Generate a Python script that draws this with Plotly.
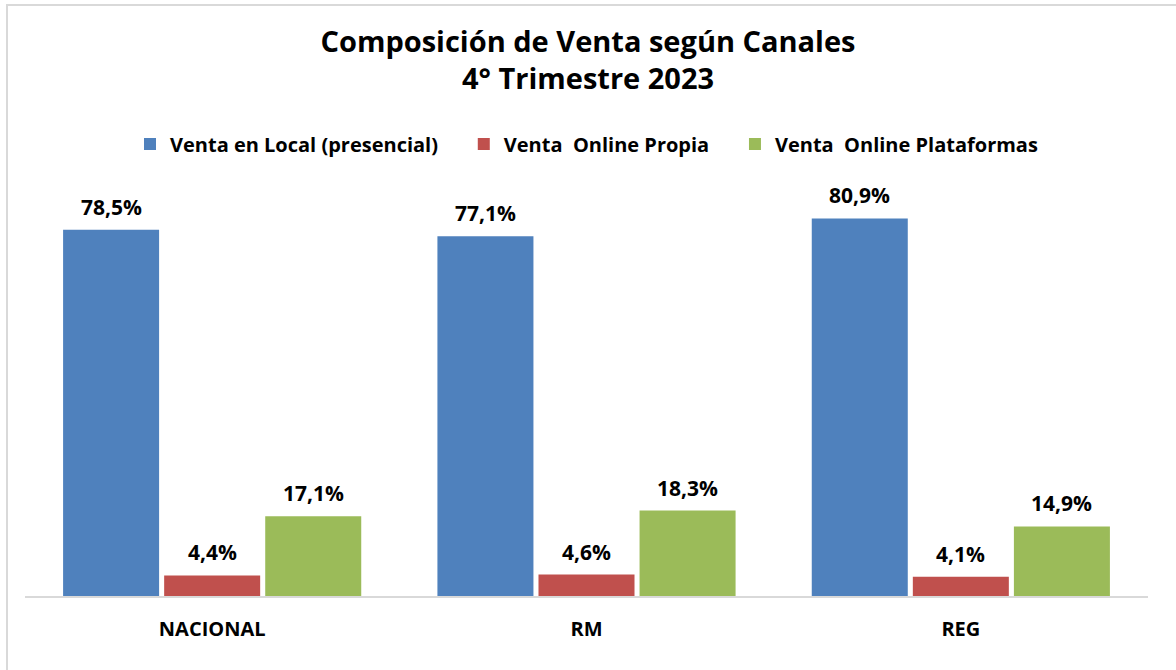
import plotly.graph_objects as go

categories = ["NACIONAL", "RM", "REG"]
series_names = ["Venta en Local (presencial)", "Venta  Online Propia", "Venta  Online Plataformas"]
venta_local = [78.5, 77.1, 80.9]
online_propia = [4.4, 4.6, 4.1]
online_plataformas = [17.1, 18.3, 14.9]
colors = ["#4F81BD", "#C0504D", "#9BBB59"]

FONT = "Open Sans"
W, H = 1176, 670
ML, MR, MT, MB = 25, 28, 176, 74
PW, PH = W - ML - MR, H - MT - MB
BARGAP, GROUPGAP = 0.19, 0.05

all_series = [venta_local, online_propia, online_plataformas]
n_series = len(all_series)
slot_px = PW / len(categories) * (1 - BARGAP) / n_series

fig = go.Figure()
annotations = []
for i, (name, vals, col) in enumerate(zip(series_names, all_series, colors)):
    label = name.replace("  ", "&nbsp; ")
    if i < n_series - 1:
        label += "&nbsp;" * 4
    fig.add_trace(go.Bar(
        x=categories, y=vals, name=label,
        marker=dict(color=col, line=dict(width=0)),
    ))
    for c, v in zip(categories, vals):
        annotations.append(dict(
            x=c, y=v, xref="x", yref="y",
            text=f"<b>{v:.1f}%</b>".replace(".", ","),
            showarrow=False, xanchor="center", yanchor="middle",
            xshift=(i - (n_series - 1) / 2) * slot_px, yshift=23,
            font=dict(family=FONT, size=21, color="black"),
        ))

fig.update_layout(
    width=W, height=H,
    paper_bgcolor="white", plot_bgcolor="white",
    margin=dict(l=ML, r=MR, t=MT, b=MB),
    title=dict(
        text="<b>Composición de Venta según Canales<br>4° Trimestre 2023</b>",
        x=0.5, xanchor="center", y=1 - 51.5 / H, yanchor="middle",
        font=dict(family=FONT, size=29, color="black"),
    ),
    legend=dict(
        orientation="h", x=0.5, xanchor="center", y=(H - 144 - MB) / PH, yanchor="middle",
        font=dict(family=FONT, size=20, color="black", weight="bold"),
        traceorder="normal",
    ),
    barmode="group", bargap=BARGAP, bargroupgap=GROUPGAP,
    showlegend=True,
    xaxis=dict(
        showline=True, linecolor="#D9D9D9", linewidth=2, showgrid=False,
        ticks="", tickfont=dict(family=FONT, size=20, color="black", weight="bold"),
        ticklabelstandoff=14,
    ),
    yaxis=dict(range=[0, 90], visible=False, showgrid=False),
    annotations=annotations,
    shapes=[dict(
        type="rect", xref="paper", yref="paper",
        x0=(7 - ML) / PW, x1=(W + 20 - ML) / PW,
        y0=(-20 - MB) / PH, y1=(H - 5 - MB) / PH,
        line=dict(color="#D9D9D9", width=2), fillcolor="rgba(0,0,0,0)", layer="below",
    )],
)

fig.write_html("out.html", config={"displayModeBar": False},
               post_script="document.body.style.margin='0';")
